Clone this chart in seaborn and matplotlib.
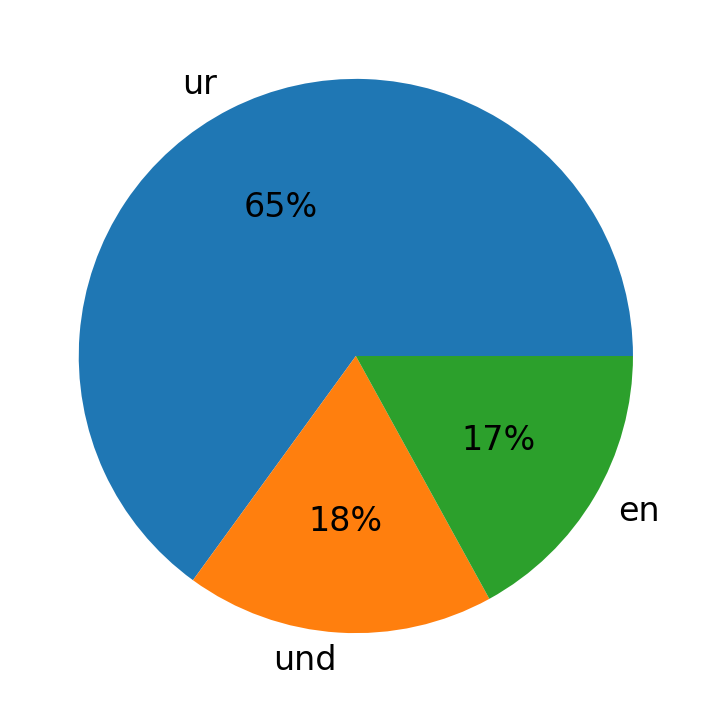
import matplotlib
matplotlib.use("Agg")
import matplotlib.pyplot as plt
import seaborn as sns

labels = ["ur", "und", "en"]
values = [65, 18, 17]

colors = sns.color_palette("tab10", 3)
fig = plt.figure(figsize=(7.12, 7.13), dpi=100)
ax = fig.add_axes([0.0133, 0.0147, 0.973, 0.972])
ax.pie(values, labels=labels, colors=colors, autopct="%1.0f%%",
       textprops={"fontsize": 24})
fig.savefig("out.png", dpi=100)
